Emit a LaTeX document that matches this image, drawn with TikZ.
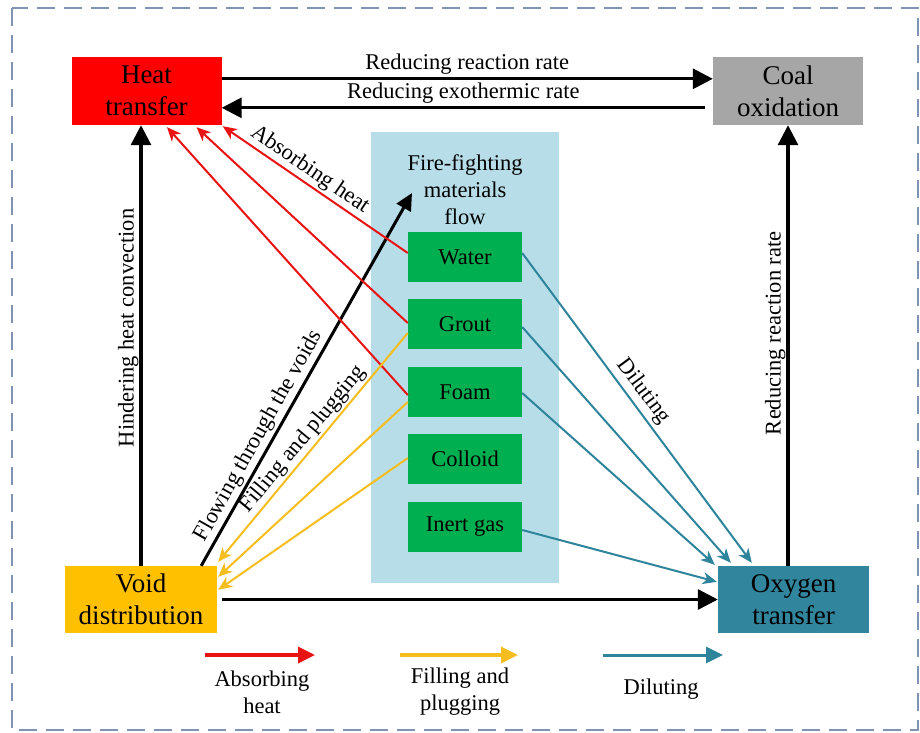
\documentclass[tikz,border=0pt]{standalone}
\usepackage{fontspec}
\setmainfont{Liberation Serif}
\usetikzlibrary{arrows.meta,calc}
\definecolor{heatred}{RGB}{255,0,0}
\definecolor{coalgray}{RGB}{166,166,166}
\definecolor{voidgold}{RGB}{255,192,0}
\definecolor{oxyteal}{RGB}{49,133,156}
\definecolor{matgreen}{RGB}{0,176,80}
\definecolor{panelblue}{RGB}{183,221,232}
\definecolor{linered}{RGB}{232,20,20}
\definecolor{lineyellow}{RGB}{245,190,30}
\definecolor{lineteal}{RGB}{46,132,155}
\definecolor{framecol}{RGB}{128,147,179}
\begin{document}
\begin{tikzpicture}[x=1pt,y=-1pt,
  bigbox/.style={minimum width=150pt,minimum height=68pt,inner sep=0pt,align=center,font=\fontsize{27}{32}\selectfont},
  matbox/.style={fill=matgreen,minimum width=114pt,minimum height=50pt,inner sep=0pt,font=\fontsize{22.5}{27}\selectfont},
  lbl/.style={font=\fontsize{22.5}{27}\selectfont,inner sep=2pt},
  blk/.style={draw=black,line width=3.2pt,-{Triangle[length=20pt,width=20pt]}},
  blksmall/.style={draw=black,line width=3pt,-{Triangle[length=17pt,width=16pt]}},
  redarr/.style={draw=linered,line width=2pt,-{Stealth[length=14pt,width=12pt,inset=4pt]}},
  yelarr/.style={draw=lineyellow,line width=2pt,-{Stealth[length=14pt,width=12pt,inset=4pt]}},
  tealarr/.style={draw=lineteal,line width=2pt,-{Stealth[length=14pt,width=12pt,inset=4pt]}},
  legarr/.style={line width=3.5pt,-{Triangle[length=17pt,width=16pt]}}
]
\useasboundingbox (0,0) rectangle (920,732);
\draw[framecol,line width=1.5pt,dash pattern=on 18pt off 9pt] (12,8) rectangle (918,730);

% main boxes
\node[bigbox,fill=heatred] (heat) at (146.5,91) {Heat\\transfer};
\node[bigbox,fill=coalgray] (coal) at (788,91) {Coal\\oxidation};
\node[bigbox,fill=voidgold,minimum width=152pt,minimum height=67pt] (void) at (141,599.5) {Void\\distribution};
\node[bigbox,fill=oxyteal,minimum width=151pt,minimum height=67pt] (oxy) at (793.5,599.5) {Oxygen\\transfer};

% panel
\node[fill=panelblue,minimum width=188pt,minimum height=451pt,inner sep=0pt] (panel) at (465,357.5) {};
\node[lbl,align=center] (flowtitle) at (465,190) {Fire-fighting\\materials\\flow};
\node[matbox] (water) at (465,257) {Water};
\node[matbox] (grout) at (465,324) {Grout};
\node[matbox] (foam) at (465,392) {Foam};
\node[matbox] (colloid) at (465,459) {Colloid};
\node[matbox] (inert) at (465,527) {Inert gas};
\coordinate (flowtip) at (412,193);

% black connectors
\draw[blk] ($(heat.north east)+(0,22)$) -- node[lbl,above,inner sep=2.5pt] {Reducing reaction rate} ($(coal.north west)+(0,22)$);
\draw[blk] ($(coal.north west)+(-8,51)$) -- node[lbl,above,inner sep=2.5pt] {Reducing exothermic rate} ($(heat.north east)+(0,51)$);
\draw[blk] (void.north) -- node[lbl,pos=0.54,rotate=90,anchor=south,inner sep=1pt] {Hindering heat convection} (void.north |- heat.south);
\draw[blk] (coal.south |- oxy.north) -- node[lbl,pos=0.528,rotate=90,anchor=south,inner sep=1pt] {Reducing reaction rate} (coal.south);
\draw[blk] ($(void.east)+(5,0)$) -- (oxy.west);
\draw[blksmall] ($(void.north east)+(-16,0)$) -- node[lbl,pos=0.33,sloped,above,inner sep=2pt] {Flowing through the voids} (flowtip);

% red: absorbing heat
\draw[redarr] ($(water.west)+(0,-4)$) -- node[lbl,pos=0.57,sloped,above,inner sep=2pt] {Absorbing heat} ($(heat.south east)+(1,1)$);
\draw[redarr] ($(grout.west)+(0,-1)$) -- ($(heat.south)+(50,2)$);
\draw[redarr] ($(foam.west)+(0,3)$) -- ($(heat.south)+(20.5,2)$);

% yellow: filling and plugging
\draw[yelarr] ($(grout.west)+(0,9)$) -- node[lbl,pos=0.5,sloped,above,inner sep=1.5pt] {Filling and plugging} ($(void.north east)+(1,-4)$);
\draw[yelarr] ($(foam.west)+(0,10)$) -- ($(void.north east)+(1,11)$);
\draw[yelarr] ($(colloid.west)+(0,-1)$) -- ($(void.north east)+(1,24)$);

% teal: diluting
\draw[tealarr] ($(water.east)+(0,-4)$) -- node[lbl,pos=0.475,sloped,above,inner sep=4pt] {Diluting} ($(oxy.north west)+(34,-3)$);
\draw[tealarr] ($(grout.east)+(0,3)$) -- ($(oxy.north west)+(13,-3)$);
\draw[tealarr] ($(foam.east)+(0,1)$) -- ($(oxy.north west)+(-3,-1)$);
\draw[tealarr] ($(inert.east)+(0,3)$) -- ($(oxy.north west)+(-1,16)$);

% legend
\coordinate (lra) at (205,655); \coordinate (lrb) at (315,655);
\coordinate (lya) at (400,655); \coordinate (lyb) at (518,655);
\coordinate (lta) at (603,655); \coordinate (ltb) at (723,655);
\draw[legarr,draw=linered,fill=linered] (lra) -- (lrb);
\draw[legarr,draw=lineyellow,fill=lineyellow] (lya) -- (lyb);
\draw[legarr,line width=3pt,draw=lineteal,fill=lineteal] (lta) -- (ltb);
\node[lbl,align=center] (legred) at (262,692) {Absorbing\\heat};
\node[lbl,align=center] (legyel) at (460,692) {Filling and\\plugging};
\node[lbl] (legteal) at (661,689) {Diluting};
\end{tikzpicture}
\end{document}
